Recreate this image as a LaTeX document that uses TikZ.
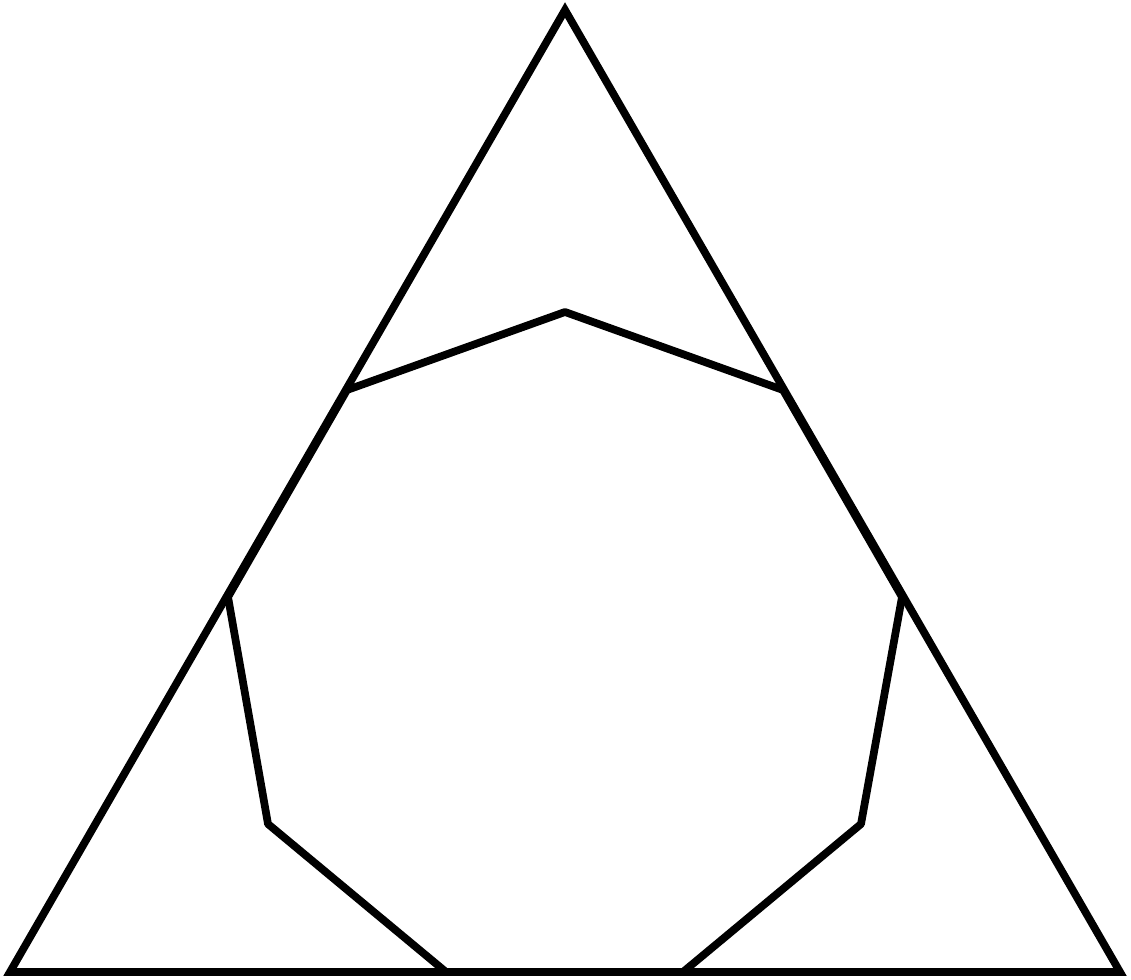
\documentclass[tikz,border=0pt]{standalone}
\begin{document}
\begin{tikzpicture}[x=0.01cm,y=-0.01cm,
  edge/.style={draw=black,line width=2.2pt}]
\useasboundingbox (0,0) rectangle (1131,980);
\coordinate (A) at (565,10);
\coordinate (B) at (10,972);
\coordinate (C) at (1120,972);
\draw[edge,line join=miter] (A) -- (B) -- (C) -- cycle;
\coordinate (n1) at (565,312);
\coordinate (n2) at (783,390);
\coordinate (n3) at (902,597);
\coordinate (n4) at (861,824);
\coordinate (n5) at (683,972);
\coordinate (n6) at (446,972);
\coordinate (n7) at (268,824);
\coordinate (n8) at (228,597);
\coordinate (n9) at (347,390);
\draw[edge,line join=round] (n1) -- (n2) -- (n3) -- (n4) -- (n5) -- (n6) -- (n7) -- (n8) -- (n9) -- cycle;
\end{tikzpicture}
\end{document}
